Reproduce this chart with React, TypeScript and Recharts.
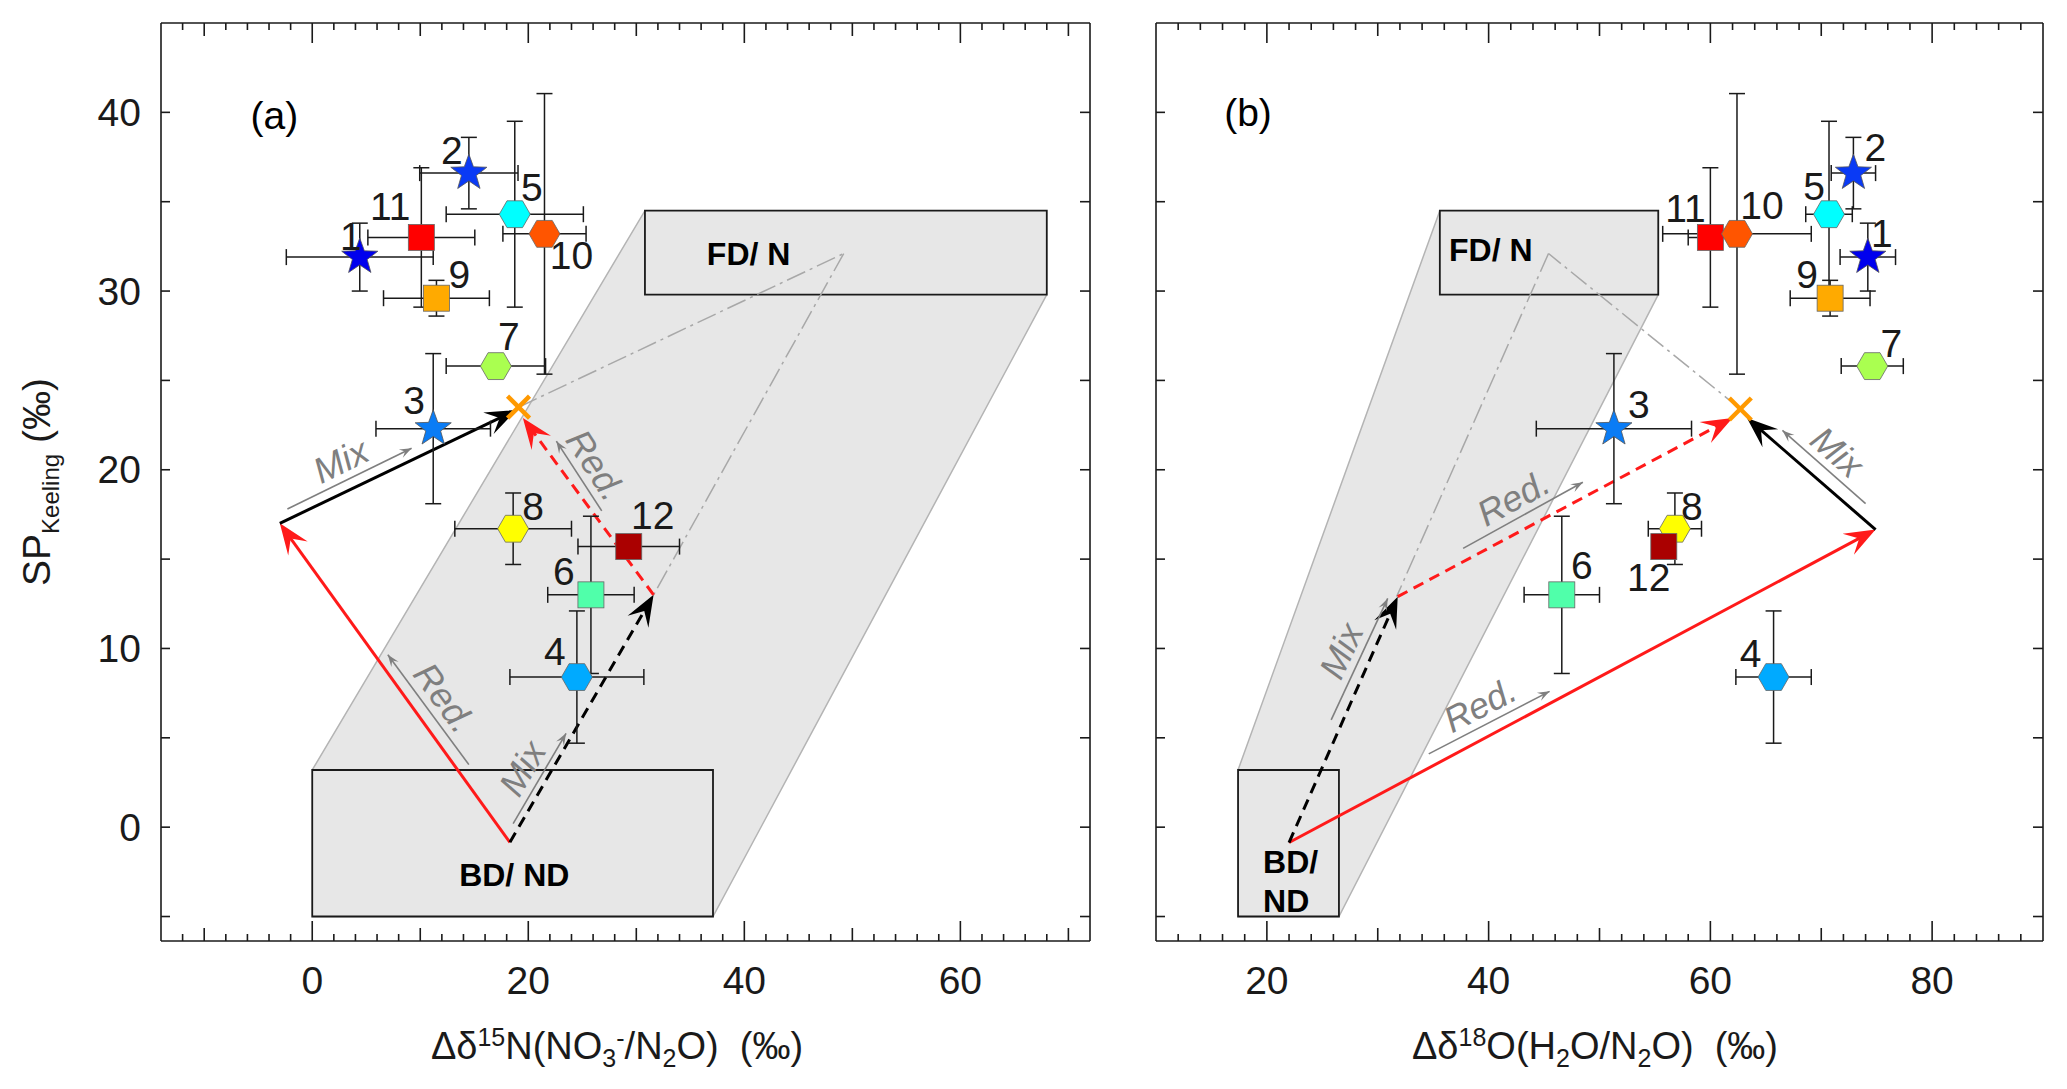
import React from 'react';
import {
  ComposedChart,
  Scatter,
  Area,
  XAxis,
  YAxis,
  ErrorBar,
  ReferenceArea,
  ReferenceLine,
  ReferenceDot,
} from 'recharts';

const FONT = '"Liberation Sans", Arial, Helvetica, sans-serif';
const INK = '#1a1a1a';
const RED = '#ff1a1a';
const GREY = '#7f7f7f';

// ---- values ----
const sampleIds = [1, 2, 3, 4, 5, 6, 7, 8, 9, 10, 11, 12];
const spKeeling = [31.9, 36.6, 22.3, 8.4, 34.3, 13.0, 25.8, 16.7, 29.6, 33.2, 33.0, 15.7];
const spErr = [1.9, 2.0, 4.2, 3.7, 5.2, 4.4, 0.4, 2.0, 1.0, 7.85, 3.9, 0.5];
const d15N = [4.4, 14.5, 11.2, 24.5, 18.75, 25.8, 17.0, 18.6, 11.5, 21.5, 10.1, 29.3];
const d15NErr = [6.8, 4.55, 5.3, 6.2, 6.35, 4.0, 4.6, 5.4, 4.9, 3.85, 4.95, 4.7];
const d18O = [74.2, 72.9, 51.3, 65.7, 70.7, 46.6, 74.6, 56.8, 70.8, 62.4, 60.0, 55.8];
const d18OErr = [2.5, 2.0, 7.0, 3.4, 2.1, 3.4, 2.8, 2.4, 3.6, 6.7, 2.0, 0.5];

const markerKind = ['star', 'star', 'star', 'hex', 'hex', 'square', 'hex', 'hex', 'square', 'hex', 'square', 'square'];
const markerColor = ['#0000ee', '#0a3af5', '#0a7cf5', '#00aaff', '#00ffff', '#50ffaa', '#aaff50', '#ffff00', '#ffaa00', '#ff5500', '#ff0000', '#aa0000'];
const drawOrder = [0, 1, 2, 3, 4, 5, 6, 7, 8, 10, 9, 11];

// number label offsets (px) from marker centre
const labelOffsetA = [[-9, -21], [-17, -23], [-19, -28], [-22, -26], [17, -27], [-27, -23], [13, -30], [20, -22], [23, -24], [27, 22], [-31, -31], [24, -31]];
const labelOffsetB = [[14, -24], [22, -26], [25, -24], [-23, -24], [-15, -28], [20, -29], [19, -23], [17, -22], [-23, -24], [25, -28], [-25, -29], [-15, 31]];

// axes
const yDomain = [-6.37, 45];
const yTicks = [-5, 0, 5, 10, 15, 20, 25, 30, 35, 40];
const xDomainA = [-14, 72];
const xTicksA = [-12, -10, -8, -6, -4, -2, 0, 2, 4, 6, 8, 10, 12, 14, 16, 18, 20, 22, 24, 26, 28, 30, 32, 34, 36, 38, 40, 42, 44, 46, 48, 50, 52, 54, 56, 58, 60, 62, 64, 66, 68, 70];
const xDomainB = [10, 90];
const xTicksB = [12, 14, 16, 18, 20, 22, 24, 26, 28, 30, 32, 34, 36, 38, 40, 42, 44, 46, 48, 50, 52, 54, 56, 58, 60, 62, 64, 66, 68, 70, 72, 74, 76, 78, 80, 82, 84, 86, 88];

// source-mixing band (x, lower, upper)
const bandAx = [0, 30.8, 37.1, 68];
const bandALow = [-5, -5, -5, 29.8];
const bandAHigh = [3.2, 34.5, 34.5, 34.5];
const bandBx = [17.4, 26.5, 35.6, 55.3];
const bandBLow = [-5, -5, 6.0, 29.8];
const bandBHigh = [3.2, 18.85, 34.5, 34.5];

// end-member boxes [x1, x2, y1, y2]
const bdBoxA = [0, 37.1, -5, 3.2];
const fdBoxA = [30.8, 68, 29.8, 34.5];
const bdBoxB = [17.4, 26.5, -5, 3.2];
const fdBoxB = [35.6, 55.3, 29.8, 34.5];

// mixing point and model paths
const mixA = [19.1, 23.5];
const mixB = [62.7, 23.4];
const dashDotA = [[19.1, 23.5], [49.2, 32.1], [31.6, 13.0]];
const dashDotB = [[62.7, 23.4], [45.4, 32.1], [31.7, 12.9]];

const arrowsA = [
  { from: [18.3, -0.85], to: [-3.0, 17.0], color: RED, dash: '' },
  { from: [-3.0, 17.0], to: [18.9, 23.35], color: '#000', dash: '' },
  { from: [18.3, -0.85], to: [31.6, 13.0], color: '#000', dash: '11 7' },
  { from: [31.6, 13.0], to: [19.5, 22.9], color: RED, dash: '11 7' },
];
const arrowsB = [
  { from: [22.0, -0.86], to: [74.9, 16.65], color: RED, dash: '' },
  { from: [74.9, 16.65], to: [63.3, 22.9], color: '#000', dash: '' },
  { from: [22.0, -0.86], to: [31.8, 12.9], color: '#000', dash: '11 7' },
  { from: [31.8, 12.9], to: [62.0, 22.9], color: RED, dash: '11 7' },
];

const notesA = [
  { from: [-2.3, 17.8], to: [9.2, 21.2], text: 'Mix' },
  { from: [14.5, 3.5], to: [7.0, 9.65], text: 'Red.' },
  { from: [18.6, 0.2], to: [23.5, 5.25], text: 'Mix' },
  { from: [26.8, 17.7], to: [22.6, 21.6], text: 'Red.' },
];
const notesB = [
  { from: [37.7, 15.6], to: [48.5, 19.3], text: 'Red.' },
  { from: [34.6, 4.1], to: [45.5, 7.6], text: 'Red.' },
  { from: [25.8, 6.0], to: [30.9, 12.8], text: 'Mix' },
  { from: [74.0, 18.1], to: [66.5, 22.2], text: 'Mix' },
];

// ---- drawing helpers ----
const pts = (arr: number[][]) => arr.map((p) => p.join(',')).join(' ');

function head(x1: number, y1: number, x2: number, y2: number, L: number, W: number, color: string) {
  const len = Math.hypot(x2 - x1, y2 - y1) || 1;
  const ux = (x2 - x1) / len;
  const uy = (y2 - y1) / len;
  const nx = -uy;
  const ny = ux;
  const bx = x2 - ux * L;
  const by = y2 - uy * L;
  const mx = x2 - ux * L * 0.6;
  const my = y2 - uy * L * 0.6;
  return (
    <polygon
      points={pts([[x2, y2], [bx + nx * W, by + ny * W], [mx, my], [bx - nx * W, by - ny * W]])}
      fill={color}
      stroke="none"
    />
  );
}

const arrowShape = (color: string, dash: string) => (p: any) => {
  const { x1, y1, x2, y2 } = p;
  const len = Math.hypot(x2 - x1, y2 - y1) || 1;
  const ex = x2 - ((x2 - x1) / len) * 16;
  const ey = y2 - ((y2 - y1) / len) * 16;
  return (
    <g>
      <line x1={x1} y1={y1} x2={ex} y2={ey} stroke={color} strokeWidth={3} strokeDasharray={dash || undefined} />
      {head(x1, y1, x2, y2, 31, 12, color)}
    </g>
  );
};

const noteShape = (text: string) => (p: any) => {
  const { x1, y1, x2, y2 } = p;
  let rot = (Math.atan2(y2 - y1, x2 - x1) * 180) / Math.PI;
  if (rot > 90) rot -= 180;
  if (rot < -90) rot += 180;
  const mx = (x1 + x2) / 2;
  const my = (y1 + y2) / 2;
  return (
    <g>
      <line x1={x1} y1={y1} x2={x2} y2={y2} stroke={GREY} strokeWidth={1.6} />
      {head(x1, y1, x2, y2, 12, 4.5, GREY)}
      <text
        transform={`translate(${mx},${my}) rotate(${rot})`}
        x={0}
        y={-20}
        textAnchor="middle"
        dominantBaseline="central"
        fontSize={36}
        fontStyle="italic"
        fontFamily={FONT}
        fill={GREY}
      >
        {text}
      </text>
    </g>
  );
};

function markerShape(i: number, offsets: number[][]) {
  return (p: any) => {
    const { cx, cy } = p;
    if (cx == null || cy == null) return <g />;
    const color = markerColor[i];
    const kind = markerKind[i];
    let body;
    if (kind === 'star') {
      const v: number[][] = [];
      for (let k = 0; k < 10; k++) {
        const a = ((-90 + k * 36) * Math.PI) / 180;
        const r = k % 2 === 0 ? 19 : 7.8;
        v.push([cx + r * Math.cos(a), cy + r * Math.sin(a)]);
      }
      body = <polygon points={pts(v)} fill={color} stroke="#555" strokeWidth={0.8} />;
    } else if (kind === 'hex') {
      const v: number[][] = [];
      for (let k = 0; k < 6; k++) {
        const a = (k * 60 * Math.PI) / 180;
        v.push([cx + 15.5 * Math.cos(a), cy + 15.5 * Math.sin(a)]);
      }
      body = <polygon points={pts(v)} fill={color} stroke="#666" strokeWidth={0.8} />;
    } else {
      body = <rect x={cx - 13} y={cy - 13} width={26} height={26} fill={color} stroke="#666" strokeWidth={0.8} />;
    }
    const [dx, dy] = offsets[i];
    return (
      <g>
        {body}
        <text x={cx + dx} y={cy + dy} textAnchor="middle" dominantBaseline="central" fontSize={39} fontFamily={FONT} fill={INK}>
          {sampleIds[i]}
        </text>
      </g>
    );
  };
}

const crossShape = (p: any) => {
  const { cx, cy } = p;
  const s = 11;
  return (
    <g stroke="#ff9900" strokeWidth={4.5}>
      <line x1={cx - s} y1={cy - s} x2={cx + s} y2={cy + s} />
      <line x1={cx - s} y1={cy + s} x2={cx + s} y2={cy - s} />
    </g>
  );
};

const textShape = (lines: string[], opts: { size: number; bold?: boolean; anchor?: string; lineGap?: number }) => (p: any) => {
  const { cx, cy } = p;
  return (
    <g>
      {lines.map((t, k) => (
        <text
          key={k}
          x={cx}
          y={cy + k * (opts.lineGap || 0)}
          textAnchor={(opts.anchor as any) || 'middle'}
          dominantBaseline="central"
          fontSize={opts.size}
          fontWeight={opts.bold ? 'bold' : 'normal'}
          fontFamily={FONT}
          fill="#000"
        >
          {t}
        </text>
      ))}
    </g>
  );
};

// ---- ticks (all pointing inwards) ----
const xTickLen = (v: number) => (v % 20 === 0 ? 20 : v % 10 === 0 ? 13 : 7);

const BottomTick = (props: any) => {
  const { x, y, payload } = props;
  const v = payload.value;
  return (
    <g>
      <line x1={x} x2={x} y1={y} y2={y - xTickLen(v)} stroke={INK} strokeWidth={1.6} />
      {v % 20 === 0 && (
        <text x={x} y={y + 39} textAnchor="middle" dominantBaseline="central" fontSize={39} fontFamily={FONT} fill={INK}>
          {v}
        </text>
      )}
    </g>
  );
};
const TopTick = (props: any) => {
  const { x, y, payload } = props;
  return <line x1={x} x2={x} y1={y} y2={y + xTickLen(payload.value)} stroke={INK} strokeWidth={1.6} />;
};
const LeftTickLabelled = (props: any) => {
  const { x, y, payload } = props;
  const v = payload.value;
  return (
    <g>
      <line x1={x} x2={x + 9} y1={y} y2={y} stroke={INK} strokeWidth={1.6} />
      {v % 10 === 0 && (
        <text x={x - 20} y={y} textAnchor="end" dominantBaseline="central" fontSize={39} fontFamily={FONT} fill={INK}>
          {v}
        </text>
      )}
    </g>
  );
};
const LeftTickPlain = (props: any) => {
  const { x, y } = props;
  return <line x1={x} x2={x + 9} y1={y} y2={y} stroke={INK} strokeWidth={1.6} />;
};
const RightTick = (props: any) => {
  const { x, y } = props;
  return <line x1={x} x2={x - 10} y1={y} y2={y} stroke={INK} strokeWidth={1.6} />;
};

// ---- axis titles ----
const XTitleA = () => (
  <text x={617} y={1059} textAnchor="middle" fontSize={38} fontFamily={FONT} fill={INK}>
    Δδ<tspan fontSize={25} dy={-13}>15</tspan>
    <tspan dy={13}>N(NO</tspan>
    <tspan fontSize={25} dy={8}>3</tspan>
    <tspan fontSize={25} dy={-20}>-</tspan>
    <tspan dy={12}>/N</tspan>
    <tspan fontSize={25} dy={8}>2</tspan>
    <tspan dy={-8}>{'O)\u00a0\u00a0(‰)'}</tspan>
  </text>
);
const XTitleB = () => (
  <text x={495} y={1059} textAnchor="middle" fontSize={38} fontFamily={FONT} fill={INK}>
    Δδ<tspan fontSize={25} dy={-13}>18</tspan>
    <tspan dy={13}>O(H</tspan>
    <tspan fontSize={25} dy={8}>2</tspan>
    <tspan dy={-8}>O/N</tspan>
    <tspan fontSize={25} dy={8}>2</tspan>
    <tspan dy={-8}>{'O)\u00a0\u00a0(‰)'}</tspan>
  </text>
);
const YTitle = () => (
  <text transform="translate(50,482) rotate(-90)" textAnchor="middle" fontSize={39} fontFamily={FONT} fill={INK}>
    SP<tspan fontSize={24} dy={9}>Keeling</tspan>
    <tspan dy={-9}>{'\u00a0(‰)'}</tspan>
  </text>
);

type PanelProps = {
  width: number;
  leftW: number;
  rightW: number;
  xDomain: number[];
  xTicks: number[];
  xValues: number[];
  xErr: number[];
  offsets: number[][];
  bandX: number[];
  bandLow: number[];
  bandHigh: number[];
  bdBox: number[];
  fdBox: number[];
  mix: number[];
  dashDot: number[][];
  arrows: { from: number[]; to: number[]; color: string; dash: string }[];
  notes: { from: number[]; to: number[]; text: string }[];
  panelTag: string;
  tagPos: number[];
  fdText: number[];
  bdText: { lines: string[]; pos: number[]; anchor: string };
  xTitle: React.ReactElement;
  yTitle: boolean;
};

function Panel(c: PanelProps) {
  const band = c.bandX.map((x, k) => ({ x, lo: c.bandLow[k], hi: c.bandHigh[k] }));
  return (
    <ComposedChart width={c.width} height={1089} data={band} margin={{ top: 0, right: 0, bottom: 0, left: 0 }}>
      <XAxis
        dataKey="x"
        type="number"
        domain={c.xDomain}
        allowDataOverflow
        ticks={c.xTicks}
        interval={0}
        height={148}
        tickSize={0}
        tickMargin={0}
        tickLine={false}
        tick={BottomTick}
        axisLine={{ stroke: INK, strokeWidth: 1.6 }}
        label={c.xTitle}
      />
      <XAxis
        xAxisId="top"
        orientation="top"
        dataKey="x"
        type="number"
        domain={c.xDomain}
        allowDataOverflow
        ticks={c.xTicks}
        interval={0}
        height={23}
        tickSize={0}
        tickMargin={0}
        tickLine={false}
        tick={TopTick}
        axisLine={{ stroke: INK, strokeWidth: 1.6 }}
      />
      <YAxis
        type="number"
        domain={yDomain}
        allowDataOverflow
        ticks={yTicks}
        interval={0}
        width={c.leftW}
        tickSize={0}
        tickMargin={0}
        tickLine={false}
        tick={c.yTitle ? LeftTickLabelled : LeftTickPlain}
        axisLine={{ stroke: INK, strokeWidth: 1.6 }}
        label={c.yTitle ? <YTitle /> : undefined}
      />
      <YAxis
        yAxisId="right"
        orientation="right"
        type="number"
        domain={yDomain}
        allowDataOverflow
        ticks={yTicks}
        interval={0}
        width={c.rightW}
        tickSize={0}
        tickMargin={0}
        tickLine={false}
        tick={RightTick}
        axisLine={{ stroke: INK, strokeWidth: 1.6 }}
      />

      <Area
        type="linear"
        dataKey={(d: any) => [d.lo, d.hi]}
        stroke="#b4b4b4"
        strokeWidth={1.5}
        fill="#e7e7e7"
        fillOpacity={1}
        dot={false}
        activeDot={false}
        isAnimationActive={false}
      />
      <ReferenceArea x1={c.bdBox[0]} x2={c.bdBox[1]} y1={c.bdBox[2]} y2={c.bdBox[3]} fill="#e7e7e7" fillOpacity={1} stroke={INK} strokeWidth={1.8} />
      <ReferenceArea x1={c.fdBox[0]} x2={c.fdBox[1]} y1={c.fdBox[2]} y2={c.fdBox[3]} fill="#e7e7e7" fillOpacity={1} stroke={INK} strokeWidth={1.8} />
      <ReferenceDot x={c.fdText[0]} y={c.fdText[1]} r={0} shape={textShape(['FD/ N'], { size: 32, bold: true })} />
      <ReferenceDot
        x={c.bdText.pos[0]}
        y={c.bdText.pos[1]}
        r={0}
        shape={textShape(c.bdText.lines, { size: 32, bold: true, anchor: c.bdText.anchor, lineGap: 39 })}
      />

      {c.dashDot.slice(1).map((p, k) => (
        <ReferenceLine
          key={`dd${k}`}
          segment={[
            { x: c.dashDot[k][0], y: c.dashDot[k][1] },
            { x: p[0], y: p[1] },
          ]}
          stroke="#a8a8a8"
          strokeWidth={1.5}
          strokeDasharray="20 5 3 5"
        />
      ))}

      {c.arrows.map((a, k) => (
        <ReferenceLine
          key={`ar${k}`}
          segment={[
            { x: a.from[0], y: a.from[1] },
            { x: a.to[0], y: a.to[1] },
          ]}
          shape={arrowShape(a.color, a.dash)}
        />
      ))}
      {c.notes.map((n, k) => (
        <ReferenceLine
          key={`nt${k}`}
          segment={[
            { x: n.from[0], y: n.from[1] },
            { x: n.to[0], y: n.to[1] },
          ]}
          shape={noteShape(n.text)}
        />
      ))}

      {drawOrder.map((i) => (
        <Scatter
          key={`s${i}`}
          name={`Sample ${sampleIds[i]}`}
          data={[{ x: c.xValues[i], y: spKeeling[i], ex: c.xErr[i], ey: spErr[i] }]}
          dataKey="y"
          shape={markerShape(i, c.offsets)}
          isAnimationActive={false}
        >
          <ErrorBar dataKey="ex" direction="x" width={8} stroke={INK} strokeWidth={1.5} isAnimationActive={false} />
          <ErrorBar dataKey="ey" direction="y" width={8} stroke={INK} strokeWidth={1.5} isAnimationActive={false} />
        </Scatter>
      ))}
      <Scatter name="mixture" data={[{ x: c.mix[0], y: c.mix[1] }]} dataKey="y" shape={crossShape} isAnimationActive={false} />

      <ReferenceDot x={c.tagPos[0]} y={c.tagPos[1]} r={0} shape={textShape([c.panelTag], { size: 39 })} />
    </ComposedChart>
  );
}

export default function App() {
  return (
    <div style={{ position: 'absolute', left: 0, top: 0, width: 2067, height: 1089, background: '#fff', fontFamily: FONT }}>
      <div style={{ position: 'absolute', left: 0, top: 0 }}>
        <Panel
          width={1100}
          leftW={161}
          rightW={10}
          xDomain={xDomainA}
          xTicks={xTicksA}
          xValues={d15N}
          xErr={d15NErr}
          offsets={labelOffsetA}
          bandX={bandAx}
          bandLow={bandALow}
          bandHigh={bandAHigh}
          bdBox={bdBoxA}
          fdBox={fdBoxA}
          mix={mixA}
          dashDot={dashDotA}
          arrows={arrowsA}
          notes={notesA}
          panelTag="(a)"
          tagPos={[-3.5, 39.8]}
          fdText={[40.4, 32.1]}
          bdText={{ lines: ['BD/ ND'], pos: [18.7, -2.7], anchor: 'middle' }}
          xTitle={<XTitleA />}
          yTitle
        />
      </div>
      <div style={{ position: 'absolute', left: 1100, top: 0 }}>
        <Panel
          width={967}
          leftW={56}
          rightW={24}
          xDomain={xDomainB}
          xTicks={xTicksB}
          xValues={d18O}
          xErr={d18OErr}
          offsets={labelOffsetB}
          bandX={bandBx}
          bandLow={bandBLow}
          bandHigh={bandBHigh}
          bdBox={bdBoxB}
          fdBox={fdBoxB}
          mix={mixB}
          dashDot={dashDotB}
          arrows={arrowsB}
          notes={notesB}
          panelTag="(b)"
          tagPos={[18.3, 40.0]}
          fdText={[40.2, 32.3]}
          bdText={{ lines: ['BD/', 'ND'], pos: [19.66, -1.94], anchor: 'start' }}
          xTitle={<XTitleB />}
          yTitle={false}
        />
      </div>
    </div>
  );
}
